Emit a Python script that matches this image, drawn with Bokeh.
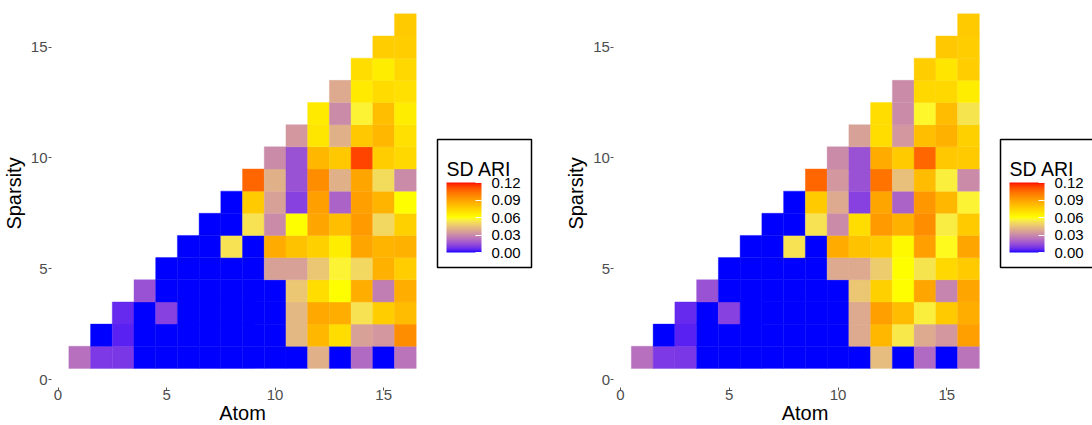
from bokeh.plotting import figure
from bokeh.models import (ColumnDataSource, LinearColorMapper, ColorBar, FixedTicker,
                          PrintfTickFormatter, Range1d, BoxAnnotation, Label)
from bokeh.layouts import row
from bokeh.embed import file_html
from bokeh.resources import INLINE

# ---------------------------------------------------------------- data
atoms = list(range(1, 17))

# SD of ARI per atom count; each inner list runs over sparsity 1..atom
sd_ari_left = [
    [0.023],
    [0.0096, 0.0],
    [0.009, 0.005, 0.0065],
    [0.0, 0.0, 0.0, 0.0155],
    [0.0, 0.0, 0.0115, 0.0, 0.0],
    [0.0, 0.0, 0.0, 0.0, 0.0, 0.0],
    [0.0, 0.0, 0.0, 0.0, 0.0, 0.0, 0.0],
    [0.0, 0.0, 0.0, 0.0, 0.0, 0.0525, 0.0, 0.0],
    [0.0, 0.0, 0.0, 0.0, 0.0, 0.0, 0.0525, 0.077, 0.106],
    [0.0, 0.0, 0.0, 0.0, 0.036, 0.087, 0.030, 0.036, 0.040, 0.030],
    [0.0, 0.042, 0.042, 0.0455, 0.036, 0.080, 0.060, 0.0115, 0.0155, 0.0155, 0.0335],
    [0.040, 0.083, 0.088, 0.071, 0.0455, 0.075, 0.089, 0.090, 0.096, 0.083, 0.068, 0.067],
    [0.0, 0.071, 0.086, 0.060, 0.057, 0.066, 0.081, 0.020, 0.040, 0.078, 0.040, 0.030, 0.038],
    [0.022, 0.036, 0.0525, 0.086, 0.050, 0.089, 0.092, 0.090, 0.089, 0.113, 0.078, 0.057,
     0.067, 0.071],
    [0.0, 0.0335, 0.076, 0.027, 0.085, 0.084, 0.050, 0.084, 0.051, 0.076, 0.083, 0.081,
     0.072, 0.066, 0.076],
    [0.0245, 0.096, 0.082, 0.086, 0.076, 0.085, 0.075, 0.060, 0.030, 0.073, 0.070, 0.066,
     0.070, 0.073, 0.076, 0.077],
]

sd_ari_right = [
    [0.023],
    [0.0096, 0.0],
    [0.009, 0.005, 0.0065],
    [0.0, 0.0, 0.0, 0.0155],
    [0.0, 0.0, 0.0115, 0.0, 0.0],
    [0.0, 0.0, 0.0, 0.0, 0.0, 0.0],
    [0.0, 0.0, 0.0, 0.0, 0.0, 0.0, 0.0],
    [0.0, 0.0, 0.0, 0.0, 0.0, 0.0525, 0.0, 0.0],
    [0.0, 0.0, 0.0, 0.0, 0.0, 0.0, 0.0525, 0.077, 0.106],
    [0.0, 0.0, 0.0, 0.0, 0.038, 0.087, 0.030, 0.038, 0.0335, 0.030],
    [0.0, 0.038, 0.038, 0.0455, 0.038, 0.080, 0.071, 0.0115, 0.0155, 0.0155, 0.036],
    [0.043, 0.083, 0.0905, 0.075, 0.047, 0.077, 0.092, 0.089, 0.103, 0.087, 0.071, 0.071],
    [0.0, 0.054, 0.082, 0.060, 0.060, 0.062, 0.085, 0.020, 0.044, 0.077, 0.0335, 0.030, 0.030],
    [0.022, 0.038, 0.056, 0.089, 0.053, 0.0905, 0.096, 0.093, 0.082, 0.106, 0.081, 0.058,
     0.073, 0.076],
    [0.0, 0.0335, 0.077, 0.029, 0.073, 0.059, 0.055, 0.083, 0.056, 0.078, 0.085, 0.082,
     0.073, 0.068, 0.078],
    [0.0245, 0.0905, 0.086, 0.089, 0.077, 0.089, 0.077, 0.057, 0.030, 0.077, 0.075, 0.053,
     0.066, 0.076, 0.076, 0.077],
]

axis_ticks = [0, 5, 10, 15]
legend_ticks = [0.00, 0.03, 0.06, 0.09, 0.12]
legend_title = "SD ARI"
x_title, y_title = "Atom", "Sparsity"
scale_low, scale_high = 0.0, 0.12
scale_colors = ["#0000FF", "#FFFF00", "#FF0000"]   # low, mid (at 0.06), high


# ---------------------------------------------------------------- colour scale (Lab blend)
def hex_to_lab(h):
    rgb = [int(h[i:i + 2], 16) / 255 for i in (1, 3, 5)]
    r, g, b = [c / 12.92 if c <= 0.04045 else ((c + 0.055) / 1.055) ** 2.4 for c in rgb]
    X = (0.4124 * r + 0.3576 * g + 0.1805 * b) / 0.95047
    Y = 0.2126 * r + 0.7152 * g + 0.0722 * b
    Z = (0.0193 * r + 0.1192 * g + 0.9505 * b) / 1.08883
    f = lambda t: t ** (1 / 3) if t > 0.008856 else 7.787 * t + 16 / 116
    fx, fy, fz = f(X), f(Y), f(Z)
    return 116 * fy - 16, 500 * (fx - fy), 200 * (fy - fz)


def lab_to_hex(L, a, b):
    fy = (L + 16) / 116
    fx, fz = fy + a / 500, fy - b / 200
    inv = lambda t: t ** 3 if t ** 3 > 0.008856 else (t - 16 / 116) / 7.787
    X, Y, Z = inv(fx) * 0.95047, inv(fy), inv(fz) * 1.08883
    lin = (3.2406 * X - 1.5372 * Y - 0.4986 * Z,
           -0.9689 * X + 1.8758 * Y + 0.0415 * Z,
           0.0557 * X - 0.2040 * Y + 1.0570 * Z)

    def gam(c):
        c = min(max(c, 0.0), 1.0)
        return 12.92 * c if c <= 0.0031308 else 1.055 * c ** (1 / 2.4) - 0.055

    return "#%02x%02x%02x" % tuple(int(round(gam(c) * 255)) for c in lin)


def diverging_palette(n=256):
    labs = [hex_to_lab(c) for c in scale_colors]
    out = []
    for i in range(n):
        t = i / (n - 1)
        if t <= 0.5:
            a, b, u = labs[0], labs[1], t / 0.5
        else:
            a, b, u = labs[1], labs[2], (t - 0.5) / 0.5
        out.append(lab_to_hex(*[a[k] + (b[k] - a[k]) * u for k in range(3)]))
    return out


palette = diverging_palette()
FONT = "Liberation Sans"
HEIGHT = 425
PX_PER_Y = 22.16          # vertical pixels per sparsity unit
Y0_ROW = 379              # canvas row where sparsity = 0 sits
PANEL_PAD = 0.3           # empty margin around the tiles, in data units
LEGEND_LEFT = 437         # legend box offset from the figure's left edge, px (left panel)


def heatmap(values, width, x0_col, px_per_x, legend_left):
    xs, ys, vs = [], [], []
    for atom, col in zip(atoms, values):
        for sparsity, v in enumerate(col, start=1):
            xs.append(atom)
            ys.append(sparsity)
            vs.append(v)
    src = ColumnDataSource(dict(atom=xs, sparsity=ys, sd=vs))
    mapper = LinearColorMapper(palette=palette, low=scale_low, high=scale_high)

    x_start, x_end = -x0_col / px_per_x, (width - x0_col) / px_per_x
    y_start, y_end = -(HEIGHT - Y0_ROW) / PX_PER_Y, Y0_ROW / PX_PER_Y
    p = figure(width=width, height=HEIGHT, output_backend="svg", toolbar_location=None,
               x_range=Range1d(x_start, x_end), y_range=Range1d(y_start, y_end),
               min_border_left=0, min_border_right=0, min_border_top=0,
               min_border_bottom=0)
    p.rect(x="atom", y="sparsity", width=1, height=1, source=src,
           fill_color={"field": "sd", "transform": mapper},
           line_color={"field": "sd", "transform": mapper}, line_width=0.4)

    p.grid.visible = False
    p.outline_line_color = None
    p.background_fill_color = "white"
    p.border_fill_color = "white"

    x_hi = max(atoms) + 0.5 + 2 * PANEL_PAD + 0.2
    for ax, title in ((p.xaxis, x_title), (p.yaxis, y_title)):
        ax.ticker = FixedTicker(ticks=axis_ticks)
        ax.axis_label = title
        ax.axis_line_color = None
        ax.major_tick_line_color = "#555555"
        ax.major_tick_out = 3
        ax.major_tick_in = 0
        ax.minor_tick_line_color = None
        ax.major_label_text_font = FONT
        ax.major_label_text_font_size = "15px"
        ax.major_label_text_color = "#4d4d4d"
        ax.axis_label_text_font = FONT
        ax.axis_label_text_font_size = "20px"
        ax.axis_label_text_font_style = "normal"
        ax.axis_label_text_color = "black"

    # both axes pinned to the edges of the tile panel; titles centred on that panel
    p.xaxis.fixed_location = -0.36
    p.xaxis.bounds = (-PANEL_PAD, x_hi)
    p.xaxis.major_label_standoff = 0
    p.xaxis.axis_label_standoff = -2
    p.yaxis.fixed_location = -PANEL_PAD
    p.yaxis.bounds = (-PANEL_PAD, y_end)
    p.yaxis.major_label_standoff = 1
    p.yaxis.axis_label_standoff = 3

    # legend frame (screen units, measured from the frame's lower-left corner)
    box_left, box_right = legend_left, legend_left + 94
    box_top, box_bottom = HEIGHT - 139, HEIGHT - 267
    p.add_layout(BoxAnnotation(left=box_left, right=box_right, top=box_top, bottom=box_bottom,
                               left_units="screen", right_units="screen",
                               top_units="screen", bottom_units="screen",
                               fill_color="white", fill_alpha=1.0,
                               line_color="black", line_alpha=1.0, line_width=1.5))

    cb = ColorBar(color_mapper=mapper, ticker=FixedTicker(ticks=legend_ticks),
                  formatter=PrintfTickFormatter(format="%.2f"),
                  width=35, height=70, padding=0, margin=0,
                  location=(box_left + 9, HEIGHT - 252),
                  major_label_text_font=FONT, major_label_text_font_size="15px",
                  major_label_text_color="black", label_standoff=10,
                  major_tick_line_color="white", major_tick_in=6, major_tick_out=0,
                  minor_tick_line_color=None, bar_line_color=None,
                  border_line_color=None, background_fill_color=None)
    p.add_layout(cb)

    p.add_layout(Label(x=box_left + 9, y=HEIGHT - 168, x_units="screen",
                       y_units="screen", text=legend_title, text_font=FONT,
                       text_font_size="19.5px", text_color="black",
                       text_baseline="alphabetic", text_align="left"))
    return p


p1 = heatmap(sd_ari_left, 563, 57.5, 21.71, 437)
p2 = heatmap(sd_ari_right, 529, 57.0, 21.75, 437)

layout = row(p1, p2)
open("out.html", "w").write(file_html(layout, INLINE))
